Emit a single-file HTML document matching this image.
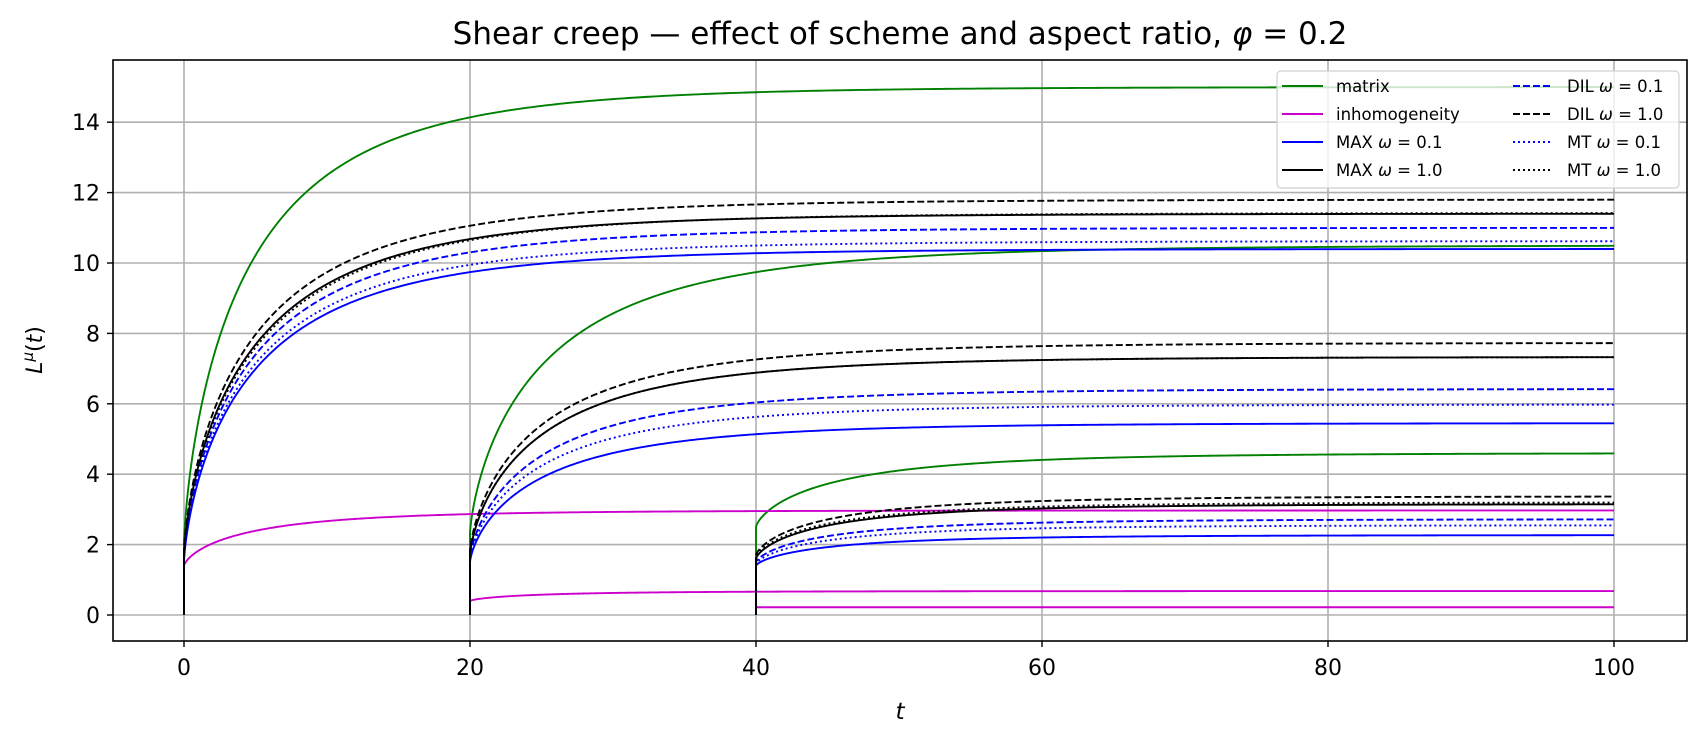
<!DOCTYPE html>
<html><head><meta charset="utf-8"><style>
body{margin:0;background:#fff}
svg{font-family:"DejaVu Sans","Liberation Sans",sans-serif}
</style></head><body>
<svg id="s" width="1706" height="742" xmlns="http://www.w3.org/2000/svg">
<rect width="1706" height="742" fill="#fff"/>
<g id="grid" stroke="#b0b0b0" stroke-width="1.6"></g>
<g id="curves" fill="none" stroke-width="1.9"></g>
<rect x="113" y="60" width="1574" height="581" fill="none" stroke="#000" stroke-width="1.6"/>
<g id="ticks" font-size="22" fill="#000"></g>
<text x="900" y="44" text-anchor="middle" font-size="31">Shear creep — effect of scheme and aspect ratio, <tspan font-style="italic">φ</tspan> = 0.2</text>
<text x="900" y="719" text-anchor="middle" font-size="23" font-style="italic">t</text>
<text transform="translate(42,350) rotate(-90)" text-anchor="middle" font-size="22"><tspan font-style="italic">L</tspan><tspan font-style="italic" dy="-9" font-size="15">μ</tspan><tspan dy="9">(</tspan><tspan font-style="italic">t</tspan>)</text>
<g>
<rect x="1277" y="71" width="402" height="117" rx="4" fill="#fff" fill-opacity="0.8" stroke="#d0d0d0" stroke-width="1.2"/>
<g font-size="16.5" fill="#000">
<line x1="1282" x2="1323" y1="86" y2="86" stroke="green" stroke-width="2"/><text x="1336" y="92">matrix</text>
<line x1="1282" x2="1323" y1="114" y2="114" stroke="#c0c" stroke-width="2"/><text x="1336" y="120">inhomogeneity</text>
<line x1="1282" x2="1323" y1="142" y2="142" stroke="#00f" stroke-width="2"/><text x="1336" y="148">MAX <tspan font-style="italic">ω</tspan> = 0.1</text>
<line x1="1282" x2="1323" y1="170" y2="170" stroke="#000" stroke-width="2"/><text x="1336" y="176">MAX <tspan font-style="italic">ω</tspan> = 1.0</text>
<line x1="1513" x2="1550" y1="86" y2="86" stroke="#00f" stroke-width="2" stroke-dasharray="7,3"/><text x="1567" y="92">DIL <tspan font-style="italic">ω</tspan> = 0.1</text>
<line x1="1513" x2="1550" y1="114" y2="114" stroke="#000" stroke-width="2" stroke-dasharray="7,3"/><text x="1567" y="120">DIL <tspan font-style="italic">ω</tspan> = 1.0</text>
<line x1="1513" x2="1550" y1="142" y2="142" stroke="#00f" stroke-width="2" stroke-dasharray="2,3"/><text x="1567" y="148">MT <tspan font-style="italic">ω</tspan> = 0.1</text>
<line x1="1513" x2="1550" y1="170" y2="170" stroke="#000" stroke-width="2" stroke-dasharray="2,3"/><text x="1567" y="176">MT <tspan font-style="italic">ω</tspan> = 1.0</text>
</g></g>
<script>
var NS="http://www.w3.org/2000/svg";
function X(t){return 184+14.3*t}function Y(v){return 615-35.2*v}
function el(p,n,a,txt){var e=document.createElementNS(NS,n);for(var k in a)e.setAttribute(k,a[k]);if(txt!=null)e.textContent=txt;document.getElementById(p).appendChild(e);return e}
for(var t=0;t<=100;t+=20){el("grid","line",{x1:X(t),x2:X(t),y1:60,y2:641});el("ticks","line",{x1:X(t),x2:X(t),y1:641,y2:647,stroke:"#000","stroke-width":1.4});el("ticks","text",{x:X(t),y:675,"text-anchor":"middle"},""+t)}
for(var v=0;v<=14;v+=2){el("grid","line",{x1:113,x2:1687,y1:Y(v),y2:Y(v)});el("ticks","line",{x1:107,x2:113,y1:Y(v),y2:Y(v),stroke:"#000","stroke-width":1.4});el("ticks","text",{x:100,y:Y(v)+8,"text-anchor":"end"},""+v)}
var series=[
 ["green","",[[0,2.0,15,5],[20,2.3,10.5,6],[40,2.5,4.6,6]]],
 ["#c0c","",[[0,1.4,2.97,5],[20,0.4,0.68,5],[40,0.22,0.22,5]]],
 ["#00f","",[[0,1.5,10.4,5.3],[20,1.5,5.45,5.5],[40,1.4,2.27,5.5]]],
 ["#000","",[[0,1.7,11.4,5.3],[20,1.7,7.33,5.5],[40,1.6,3.15,5.5]]],
 ["#00f","7,3",[[0,1.6,11.0,5.3],[20,1.6,6.42,5.5],[40,1.5,2.72,5.5]]],
 ["#000","7,3",[[0,1.8,11.8,5.3],[20,1.8,7.73,5.5],[40,1.7,3.37,5.5]]],
 ["#00f","2,3",[[0,1.55,10.62,5.3],[20,1.55,5.98,5.5],[40,1.45,2.55,5.5]]],
 ["#000","2,3",[[0,1.7,11.42,5.5],[20,1.7,7.33,5.5],[40,1.65,3.2,5.5]]]];
series.forEach(function(s){s[2].forEach(function(c){
 var t0=c[0],J=c[1],F=c[2],tau=c[3];
 var d="M"+X(t0)+","+Y(0)+" L"+X(t0)+","+Y(J);
 for(var i=1;i<=400;i++){var dt=100*Math.pow(i/400,2)*(100-t0)/100;var v=J+(F-J)*(1-Math.exp(-Math.pow(dt/tau,0.72)));if(t0+dt>100)break;d+=" L"+X(t0+dt).toFixed(2)+","+Y(v).toFixed(2)}
 var a={d:d,stroke:s[0]};if(s[1])a["stroke-dasharray"]=s[1];el("curves","path",a)})});
</script>
</svg>
</body></html>
